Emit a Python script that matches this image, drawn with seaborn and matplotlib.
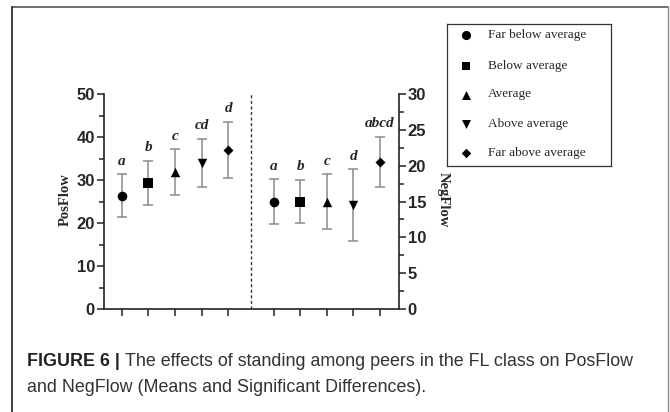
import numpy as np
import pandas as pd
import matplotlib
matplotlib.use("Agg")
import matplotlib.pyplot as plt
import seaborn as sns
from matplotlib.lines import Line2D

# ---- data ----
groups = ["Far below average", "Below average", "Average", "Above average", "Far above average"]
pos_mean = [26.3, 29.3, 31.8, 33.9, 37.0]
pos_err = [5.0, 5.1, 5.3, 5.6, 6.5]
pos_letters = ["a", "b", "c", "cd", "d"]
neg_mean = [15.0, 15.0, 15.0, 14.5, 20.5]
neg_err = [3.1, 3.0, 3.8, 5.0, 3.5]
neg_letters = ["a", "b", "c", "d", "abcd"]
pos_x = [1, 2, 3, 4, 5]
neg_x = [6.7, 7.7, 8.7, 9.7, 10.7]
left_ticks = [0, 10, 20, 30, 40, 50]
right_ticks = [0, 5, 10, 15, 20, 25, 30]

markers = {"Far below average": "o", "Below average": "s", "Average": "^",
           "Above average": "v", "Far above average": "D"}
msizes = {"Far below average": 48, "Below average": 42, "Average": 46,
          "Above average": 46, "Far above average": 26}

sns.set_style("white")
plt.rcParams["font.family"] = ["Liberation Sans", "DejaVu Sans"]

W, H = 670, 412
fig = plt.figure(figsize=(W / 100, H / 100), dpi=100)

def fx(px):
    return px / W

def fy(py):
    return 1 - py / H

# outer frame
fig.add_artist(Line2D([fx(11.5), fx(668)], [fy(6.5), fy(6.5)], color="#555555", lw=1.2))
fig.add_artist(Line2D([fx(11.5), fx(11.5)], [fy(6.5), fy(415)], color="#222222", lw=1.2))
fig.add_artist(Line2D([fx(668), fx(668)], [fy(6.5), fy(415)], color="#888888", lw=1.0))

ax = fig.add_axes([fx(104), fy(309), fx(398.7) - fx(104), fy(94) - fy(309)])
ax2 = ax.twinx()

df_pos = pd.DataFrame({"x": pos_x, "y": pos_mean, "err": pos_err, "g": groups})
df_neg = pd.DataFrame({"x": neg_x, "y": neg_mean, "err": neg_err, "g": groups})

err_color = "#8a8a8a"
ax.errorbar(df_pos["x"], df_pos["y"], yerr=df_pos["err"], fmt="none",
            ecolor=err_color, elinewidth=1.1, capsize=3.4, capthick=1.1, zorder=2)
ax2.errorbar(df_neg["x"], df_neg["y"], yerr=df_neg["err"], fmt="none",
             ecolor=err_color, elinewidth=1.1, capsize=3.4, capthick=1.1, zorder=2)

for g in groups:
    sub = df_pos[df_pos["g"] == g]
    sns.scatterplot(data=sub, x="x", y="y", marker=markers[g], s=msizes[g],
                    color="black", edgecolor="black", linewidth=0, ax=ax, zorder=3, legend=False)
    sub2 = df_neg[df_neg["g"] == g]
    sns.scatterplot(data=sub2, x="x", y="y", marker=markers[g], s=msizes[g],
                    color="black", edgecolor="black", linewidth=0, ax=ax2, zorder=3, legend=False)

letter_font = dict(family="Liberation Serif", weight="bold", style="italic", size=11)
for x, m, e, t in zip(pos_x, pos_mean, pos_err, pos_letters):
    ax.annotate(t, (x, m + e), xytext=(0, 7), textcoords="offset points",
                ha="center", va="baseline", **letter_font)
for x, m, e, t in zip(neg_x, neg_mean, neg_err, neg_letters):
    ax2.annotate(t, (x, m + e), xytext=(0, 7), textcoords="offset points",
                 ha="center", va="baseline", **letter_font)

ax.set_xlim(0.33, 11.4)
ax.set_ylim(0, 50)
ax2.set_ylim(0, 30)
ax.axvline(5.85, color="#333333", lw=1.0, ls=(0, (2.2, 1.8)))

ax.set_xticks([1, 2, 3, 4, 5, 6.7, 7.7, 8.7, 9.7, 10.7])
ax.set_xticklabels([])
ax.set_yticks(left_ticks)
ax.set_yticks([5, 15, 25, 35, 45], minor=True)
ax2.set_yticks(right_ticks)
ax2.set_yticks([2.5, 7.5, 12.5, 17.5, 22.5, 27.5], minor=True)
ax.set_xlabel("")
ax.set_ylabel("")
ax2.set_ylabel("")

tick_font = dict(family="Liberation Sans", weight="bold", size=12)
ax.set_yticklabels([str(t) for t in left_ticks], **tick_font)
ax2.set_yticklabels([str(t) for t in right_ticks], **tick_font)

for a in (ax, ax2):
    a.spines["top"].set_visible(False)
    for s in ["left", "right", "bottom"]:
        a.spines[s].set_linewidth(1.2)
        a.spines[s].set_color("#222222")
ax.spines["right"].set_visible(False)
ax2.spines["left"].set_visible(False)
ax2.spines["bottom"].set_visible(False)

ax.tick_params(axis="y", which="major", direction="out", length=5, width=1.1, color="#222222", pad=1.5)
ax.tick_params(axis="y", which="minor", direction="out", length=3.5, width=1.1, color="#222222", left=True)
ax.tick_params(axis="x", which="major", direction="out", length=5, width=1.1, color="#222222", bottom=True)
ax2.tick_params(axis="y", which="major", direction="out", length=5, width=1.1, color="#222222", pad=1.5, right=True)
ax2.tick_params(axis="y", which="minor", direction="out", length=3.5, width=1.1, color="#222222", right=True)

# axis titles
fig.text(fx(65), fy(200), "PosFlow", rotation=90, ha="center", va="center",
         family="Liberation Serif", weight="bold", size=10.5)
fig.text(fx(443), fy(200), "NegFlow", rotation=270, ha="center", va="center",
         family="Liberation Serif", weight="bold", size=10.5)

# legend box
lax = fig.add_axes([fx(447), fy(166), fx(611) - fx(447), fy(24) - fy(166)])
lax.set_xlim(447, 611)
lax.set_ylim(166, 24)
lax.set_xticks([])
lax.set_yticks([])
for s in lax.spines.values():
    s.set_linewidth(0.9)
    s.set_color("#333333")
leg_y = [35, 65.5, 94.5, 123.5, 153]
for g, yy in zip(groups, leg_y):
    lax.scatter([465.5], [yy], marker=markers[g], s=msizes[g] * 0.9, color="black", linewidths=0)
    lax.text(488, yy, g, ha="left", va="center", family="Liberation Serif", size=9.5)

# caption
cap_size = 12.9
t1 = fig.text(fx(27), fy(362), "FIGURE 6 |", ha="left", va="center", weight="bold", size=cap_size,
              family="Liberation Sans", color="#222222")
fig.canvas.draw()
bb = t1.get_window_extent(renderer=fig.canvas.get_renderer())
x_next = (bb.x1 + 5) / W
fig.text(x_next, fy(362), "The effects of standing among peers in the FL class on PosFlow",
         ha="left", va="center", size=cap_size, family="Liberation Sans", color="#333333")
fig.text(fx(27), fy(387), "and NegFlow (Means and Significant Differences).",
         ha="left", va="center", size=cap_size, family="Liberation Sans", color="#333333")

fig.savefig("out.png", dpi=100)
